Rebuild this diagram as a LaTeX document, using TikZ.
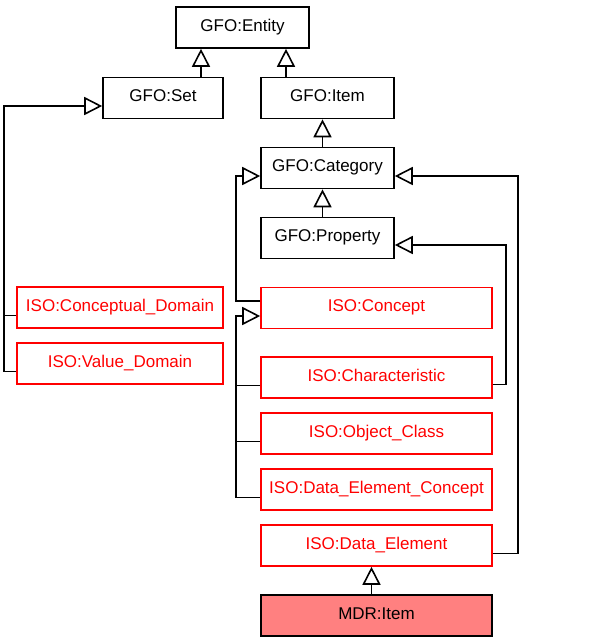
\documentclass[tikz,border=0pt]{standalone}
\usepackage{fontspec}
\setmainfont{Liberation Sans}
\usetikzlibrary{arrows.meta}
\definecolor{mdrred}{RGB}{255,128,128}

\begin{document}
\begin{tikzpicture}[ x = 1pt, y = -1pt,
		line/.style = { line width = 1.6pt },
		box/.style = { draw, line, inner sep = 0pt, minimum height = 41pt, text height = 12pt, text depth = 5pt, font = \fontsize{17}{20}\selectfont },
		gfo/.style = { box, minimum width = 133pt },
		iso/.style = { box, draw = red, text = red, minimum width = 231pt },
		gen/.style = { line, -{ Triangle[ open, length = 18pt, width = 18pt, fill = white ] } } ]
	\useasboundingbox ( 0, 0 ) rectangle ( 600, 641 );

	% GFO
	\node [ gfo ] (entity) at ( 242.5, 27.5 ) {GFO:Entity};
	\node [ gfo, minimum width = 120pt ] (set) at ( 163, 98 ) {GFO:Set};
	\node [ gfo ] (item) at ( 327.5, 98 ) {GFO:Item};
	\node [ gfo ] (category) at ( 327.5, 168 ) {GFO:Category};
	\node [ gfo ] (property) at ( 327.5, 238 ) {GFO:Property};

	% ISO слева
	\node [ iso, minimum width = 206pt ] (cdomain) at ( 120, 307.5 ) {ISO:Conceptual\_Domain};
	\node [ iso, minimum width = 206pt ] (vdomain) at ( 120, 363.5 ) {ISO:Value\_Domain};

	% ISO справа
	\node [ iso ] (concept) at ( 376.5, 308 ) {ISO:Concept};
	\node [ iso ] (characteristic) at ( 376.5, 377.5 ) {ISO:Characteristic};
	\node [ iso ] (objclass) at ( 376.5, 433.5 ) {ISO:Object\_Class};
	\node [ iso ] (decon) at ( 376.5, 489.5 ) {ISO:Data\_Element\_Concept};
	\node [ iso ] (delement) at ( 376.5, 545.5 ) {ISO:Data\_Element};

	% MDR
	\node [ box, minimum width = 231pt, fill = mdrred ] (mdritem) at ( 376.5, 615.5 ) {MDR:Item};

	% вверх по иерархии
	\draw [ gen ] ([xshift=38pt]set.north) -- ([xshift=38pt]set.north |- entity.south);
	\draw [ gen ] ([xshift=-41.5pt]item.north) -- ([xshift=-41.5pt]item.north |- entity.south);
	\draw [ gen ] ([xshift=-5pt]category.north) -- ([xshift=-5pt]item.south);
	\draw [ gen ] ([xshift=-5pt]property.north) -- ([xshift=-5pt]category.south);
	\draw [ gen ] ([xshift=-5pt]mdritem.north) -- ([xshift=-5pt]delement.south);

	% домены -> Set
	\draw [ gen ] ([yshift=-8pt]vdomain.west) -- ++ ( -12, 0 ) |- ([yshift=-8pt]set.west);
	\draw [ line ] ([yshift=-8pt]cdomain.west) -- ++ ( -12, 0 );

	% Concept -> Category
	\draw [ gen ] ([yshift=7pt]concept.west) -- ++ ( -24, 0 ) |- ([yshift=-8pt]category.west);

	% -> Concept
	\draw [ gen ] ([yshift=-8pt]decon.west) -- ++ ( -24, 0 ) |- ([yshift=-8pt]concept.west);
	\draw [ line ] ([yshift=-8pt]characteristic.west) -- ++ ( -24, 0 );
	\draw [ line ] ([yshift=-8pt]objclass.west) -- ++ ( -24, 0 );

	% справа
	\draw [ gen ] ([yshift=-7pt]characteristic.east) -- ++ ( 13, 0 ) |- ([yshift=-7pt]property.east);
	\draw [ gen ] ([yshift=-8pt]delement.east) -- ++ ( 25, 0 ) |- ([yshift=-8pt]category.east);
\end{tikzpicture}
\end{document}
